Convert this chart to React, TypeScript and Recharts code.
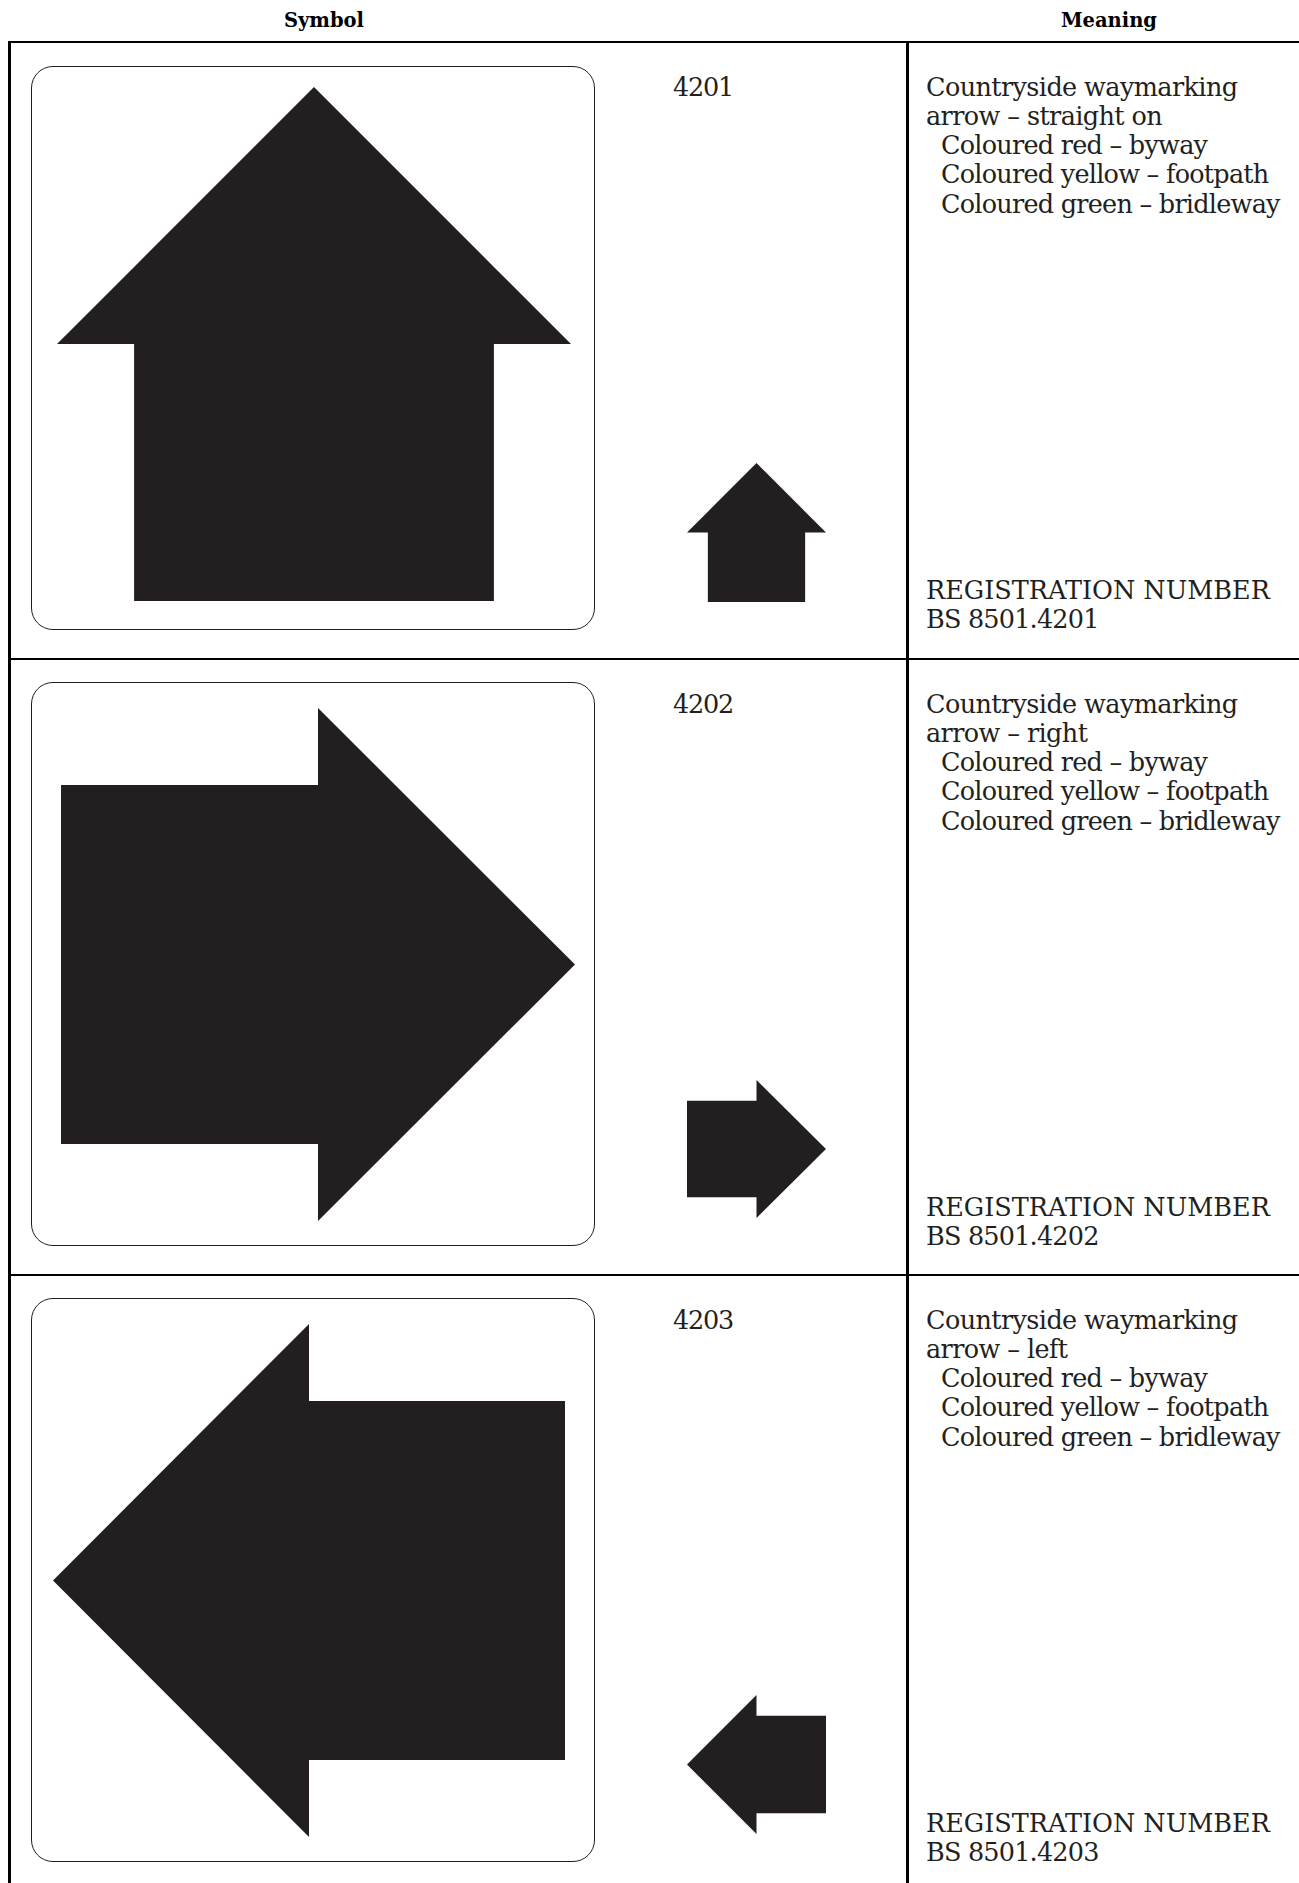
import { AreaChart, Area, XAxis, YAxis } from 'recharts';

// Arrow outlines in sign units (0–100). Each shape is a band [low, high] along x,
// so a range Area fills it. Duplicate x values give the vertical edges.
const UP_X = [0, 15, 15, 50, 85, 85, 100];
const UP_LOW = [50, 50, 0, 0, 0, 50, 50];
const UP_HIGH = [50, 65, 65, 100, 65, 65, 50];

const RIGHT_X = [0, 50, 50, 100];
const RIGHT_LOW = [15, 15, 0, 50];
const RIGHT_HIGH = [85, 85, 100, 50];

const LEFT_X = [0, 50, 50, 100];
const LEFT_LOW = [50, 0, 15, 15];
const LEFT_HIGH = [50, 100, 85, 85];

const CODES = ['4201', '4202', '4203'];
const DIRECTIONS = ['straight on', 'right', 'left'];
const COLOUR_LINES = ['Coloured red – byway', 'Coloured yellow – footpath', 'Coloured green – bridleway'];

const INK = '#231f20';
const FONT = "'DejaVu Serif', serif";

type Pt = { x: number; band: [number, number] };

const toBand = (xs: number[], lo: number[], hi: number[]): Pt[] =>
  xs.map((x, i) => ({ x, band: [lo[i], hi[i]] }));

const SHAPES = [
  toBand(UP_X, UP_LOW, UP_HIGH),
  toBand(RIGHT_X, RIGHT_LOW, RIGHT_HIGH),
  toBand(LEFT_X, LEFT_LOW, LEFT_HIGH),
];

// page layout (px)
const ROW_TOP = [42, 659, 1275];
const BOX_TOP = [66, 682, 1298];
const BIG = [
  { left: 57, top: 87, w: 514, h: 514 },
  { left: 61, top: 708, w: 514, h: 513 },
  { left: 53, top: 1324, w: 512, h: 513 },
];
const SMALL = [
  { left: 687, top: 463, w: 139, h: 139 },
  { left: 687, top: 1080, w: 139, h: 138 },
  { left: 687, top: 1695, w: 139, h: 139 },
];

const FS = 25.5;
const LH = 29.3;
const BASE_OFF = 21.2; // baseline offset inside a line box

function ArrowMark({ data, left, top, w, h }: { data: Pt[]; left: number; top: number; w: number; h: number }) {
  return (
    <div style={{ position: 'absolute', left, top, width: w, height: h }}>
      <AreaChart width={w} height={h} data={data} margin={{ top: 0, right: 0, bottom: 0, left: 0 }}>
        <XAxis type="number" dataKey="x" domain={[0, 100]} hide />
        <YAxis type="number" domain={[0, 100]} hide />
        <Area
          type="linear"
          dataKey="band"
          stroke="none"
          fill={INK}
          fillOpacity={1}
          dot={false}
          activeDot={false}
          isAnimationActive={false}
        />
      </AreaChart>
    </div>
  );
}

const hLine = (top: number) => (
  <div key={'h' + top} style={{ position: 'absolute', left: 8, top: top - 1.2, width: 1299, height: 2.5, background: '#000' }} />
);

const headStyle = {
  position: 'absolute' as const,
  width: 200,
  top: 9,
  textAlign: 'center' as const,
  fontWeight: 'bold' as const,
  fontSize: 19.5,
  lineHeight: '24px',
  color: '#000',
};

export default function App() {
  return (
    <div
      style={{
        position: 'absolute',
        left: 0,
        top: 0,
        width: 1299,
        height: 1883,
        overflow: 'hidden',
        background: '#fff',
        fontFamily: FONT,
        color: INK,
      }}
    >
      {/* header */}
      <div style={{ ...headStyle, left: 224 }}>Symbol</div>
      <div style={{ ...headStyle, left: 1009 }}>Meaning</div>

      {/* grid */}
      {ROW_TOP.map((t) => hLine(t))}
      <div style={{ position: 'absolute', left: 8, top: 41, width: 2.5, height: 1883, background: '#000' }} />
      <div style={{ position: 'absolute', left: 906, top: 41, width: 2.5, height: 1883, background: '#000' }} />

      {ROW_TOP.map((rt, i) => {
        const firstBase = rt + 51.7;
        const regBase = rt + 554.7;
        return (
          <div key={CODES[i]}>
            {/* rounded sign box */}
            <div
              style={{
                position: 'absolute',
                left: 31,
                top: BOX_TOP[i],
                width: 564,
                height: 564,
                boxSizing: 'border-box',
                border: `1.4px solid ${INK}`,
                borderRadius: 22,
              }}
            />
            <ArrowMark data={SHAPES[i]} {...BIG[i]} />
            <ArrowMark data={SHAPES[i]} {...SMALL[i]} />

            <div
              style={{
                position: 'absolute',
                left: 673,
                top: firstBase - BASE_OFF,
                fontSize: FS,
                lineHeight: `${LH}px`,
                letterSpacing: -1.2,
                whiteSpace: 'pre',
              }}
            >
              {CODES[i]}
            </div>

            <div
              style={{
                position: 'absolute',
                left: 926,
                top: firstBase - BASE_OFF,
                fontSize: FS,
                lineHeight: `${LH}px`,
                letterSpacing: -0.6,
                whiteSpace: 'pre',
              }}
            >
              <div>Countryside waymarking</div>
              <div>arrow – {DIRECTIONS[i]}</div>
              {COLOUR_LINES.map((l) => (
                <div key={l} style={{ paddingLeft: 15, letterSpacing: -0.75 }}>
                  {l}
                </div>
              ))}
            </div>

            <div
              style={{
                position: 'absolute',
                left: 926,
                top: regBase - BASE_OFF,
                fontSize: FS,
                lineHeight: `${LH}px`,
                whiteSpace: 'pre',
              }}
            >
              <div>REGISTRATION NUMBER</div>
              <div style={{ letterSpacing: -0.8 }}>BS 8501.{CODES[i]}</div>
            </div>
          </div>
        );
      })}
    </div>
  );
}
